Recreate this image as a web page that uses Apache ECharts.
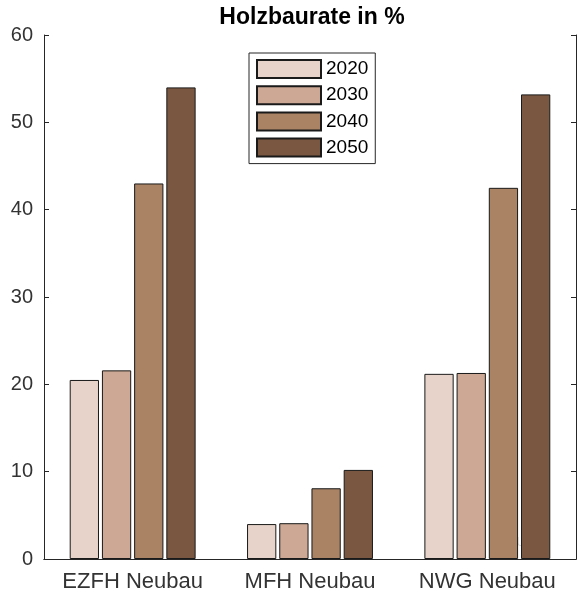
<!DOCTYPE html>
<html><head><meta charset="utf-8">
<script src="https://cdn.jsdelivr.net/npm/echarts@6/dist/echarts.min.js"></script>
<style>html,body{margin:0;padding:0;background:#fff}#c{width:577px;height:595px}</style>
</head><body><div id="c"></div>
<script>
const titleText = 'Holzbaurate in %';
const categories = ['EZFH Neubau', 'MFH Neubau', 'NWG Neubau'];
const years = ['2020', '2030', '2040', '2050'];
const v2020 = [20.5, 4.0, 21.2];
const v2030 = [21.6, 4.1, 21.3];
const v2040 = [43.0, 8.1, 42.5];
const v2050 = [54.0, 10.2, 53.2];
const yTicks = [0, 10, 20, 30, 40, 50, 60];
const colors = ['#e7d3c9', '#cda894', '#aa8365', '#7a5740'];
const values = [v2020, v2030, v2040, v2050];

const chart = echarts.init(document.getElementById('c'), null, {renderer: 'canvas'});
const axisColor = '#262626';
const textColor = '#333333';
const font = 'Liberation Sans, Arial, sans-serif';
chart.setOption({
  animation: false,
  legend: {
    data: years, orient: 'vertical', left: 249, top: 53,
    itemWidth: 64, itemHeight: 18, itemGap: 6.2,
    padding: [6, 7, 6, 7], borderColor: '#262626', borderWidth: 1, backgroundColor: '#fff',
    textStyle: {fontFamily: font, fontSize: 19, lineHeight: 18, color: '#000', padding: [0, 0, 0, 0]},
    icon: 'rect'
  },
  grid: {left: 44, right: 1, top: 35, bottom: 36},
  xAxis: [{
    type: 'category', data: categories, position: 'bottom',
    axisLine: {lineStyle: {color: axisColor, width: 1}},
    axisTick: {inside: true, alignWithLabel: true, length: 5, lineStyle: {color: axisColor}},
    axisLabel: {fontFamily: font, fontSize: 22, color: textColor, margin: 12, interval: 0, hideOverlap: false}
  }, {
    type: 'category', data: categories, position: 'top',
    axisLine: {lineStyle: {color: axisColor, width: 1}},
    axisTick: {show: false}, axisLabel: {show: false}
  }],
  yAxis: [{
    type: 'value', min: 0, max: 60, interval: 10,
    axisLine: {show: true, lineStyle: {color: axisColor}},
    axisTick: {show: true, inside: true, length: 5, lineStyle: {color: axisColor}},
    axisLabel: {fontFamily: font, fontSize: 20, color: textColor, margin: 11,
      formatter: v => yTicks.includes(v) ? String(v) : ''},
    splitLine: {show: false}
  }, {
    type: 'value', min: 0, max: 60, interval: 10, position: 'right',
    axisLine: {show: true, lineStyle: {color: axisColor}},
    axisTick: {show: true, inside: true, length: 5, lineStyle: {color: axisColor}},
    axisLabel: {show: false}, splitLine: {show: false}
  }],
  graphic: [{
    type: 'text', x: 312, y: 18,
    style: {text: titleText, fontFamily: font, fontSize: 23, fontWeight: 'bold', fill: '#000',
      align: 'center', verticalAlign: 'middle'}
  }, {
    type: 'text', left: 503, top: 536,
    style: {text: '© UFZ', fontFamily: font, fontSize: 13, fill: 'rgba(215,215,215,0.9)'}
  }],
  series: years.map((y, i) => ({
    name: y, type: 'bar', data: values[i],
    barGap: '10%', barCategoryGap: '29%',
    itemStyle: {color: colors[i], borderColor: '#1a1a1a', borderWidth: 1}
  }))
});
</script></body></html>
